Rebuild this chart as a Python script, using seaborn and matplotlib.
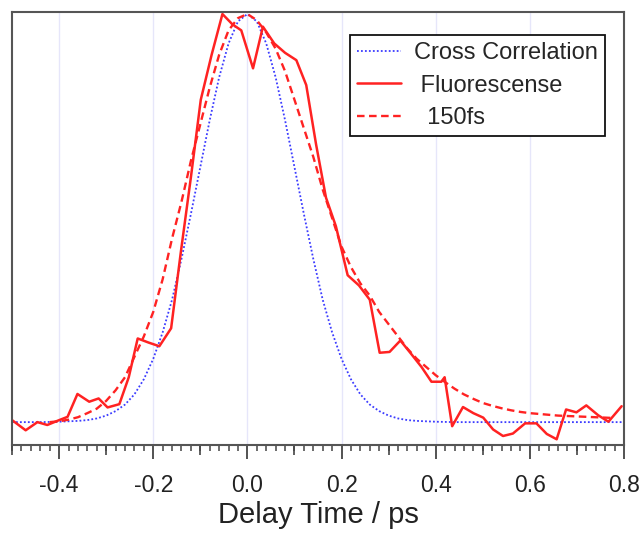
# Fluorescence up-conversion trace vs. cross correlation and a 150 fs fit
import numpy as np
import pandas as pd
import matplotlib
matplotlib.use("Agg")
import matplotlib.pyplot as plt
import seaborn as sns

# Cross correlation (instrument response)
cc_time = [-0.50, -0.44, -0.40, -0.36, -0.34, -0.32, -0.30, -0.28, -0.26, -0.24, -0.22,
           -0.20, -0.18, -0.16, -0.14, -0.12, -0.10, -0.08, -0.06, -0.04, -0.02, 0.00,
           0.02, 0.04, 0.06, 0.08, 0.10, 0.12, 0.14, 0.16, 0.18, 0.20, 0.22, 0.24,
           0.26, 0.28, 0.30, 0.32, 0.34, 0.36, 0.40, 0.44, 0.50, 0.60, 0.70, 0.80]
cc_signal = [0.0, 0.0, 0.001, 0.003, 0.005, 0.009, 0.016, 0.027, 0.043, 0.068, 0.105,
             0.155, 0.22, 0.30, 0.40, 0.51, 0.625, 0.74, 0.845, 0.928, 0.982, 1.0,
             0.982, 0.928, 0.845, 0.74, 0.625, 0.51, 0.40, 0.30, 0.22, 0.155, 0.105, 0.068,
             0.043, 0.027, 0.016, 0.009, 0.005, 0.003, 0.001, 0.0, 0.0, 0.0, 0.0, 0.0]

# Measured fluorescence
fl_time = [-0.500, -0.471, -0.446, -0.425, -0.404, -0.382, -0.361, -0.336, -0.316, -0.297,
           -0.272, -0.252, -0.233, -0.210, -0.187, -0.162, -0.141, -0.120, -0.099, -0.076,
           -0.053, -0.032, -0.013, 0.012, 0.033, 0.057, 0.080, 0.104, 0.125, 0.146,
           0.167, 0.188, 0.213, 0.237, 0.260, 0.281, 0.302, 0.325, 0.346, 0.370,
           0.391, 0.412, 0.419, 0.435, 0.458, 0.480, 0.501, 0.522, 0.543, 0.564,
           0.590, 0.614, 0.636, 0.657, 0.677, 0.699, 0.720, 0.745, 0.767, 0.795]
fl_signal = [0.005, -0.020, 0.000, -0.007, 0.003, 0.013, 0.069, 0.050, 0.058, 0.036,
             0.044, 0.110, 0.205, 0.195, 0.186, 0.230, 0.420, 0.600, 0.790, 0.900,
             1.000, 0.975, 0.960, 0.867, 0.969, 0.928, 0.905, 0.887, 0.826, 0.680,
             0.550, 0.480, 0.360, 0.335, 0.300, 0.170, 0.172, 0.200, 0.170, 0.135,
             0.099, 0.099, 0.110, -0.010, 0.037, 0.022, 0.011, -0.018, -0.034, -0.028,
             -0.003, -0.003, -0.029, -0.042, 0.031, 0.024, 0.041, 0.017, 0.001, 0.039]

# 150 fs decay convolved with the cross correlation
fit_time = [-0.42, -0.40, -0.38, -0.36, -0.34, -0.32, -0.30, -0.28, -0.26, -0.24, -0.22,
            -0.20, -0.18, -0.16, -0.14, -0.12, -0.10, -0.08, -0.06, -0.04, -0.02, 0.00,
            0.02, 0.04, 0.06, 0.08, 0.10, 0.12, 0.14, 0.16, 0.18, 0.20, 0.22, 0.24,
            0.26, 0.28, 0.30, 0.32, 0.34, 0.36, 0.38, 0.40, 0.42, 0.44, 0.46, 0.48,
            0.50, 0.52, 0.54, 0.56, 0.58, 0.60, 0.62, 0.64, 0.66, 0.68, 0.70, 0.72,
            0.74, 0.76, 0.78]
fit_signal = [0.0, 0.002, 0.006, 0.012, 0.022, 0.033, 0.052, 0.078, 0.11, 0.16, 0.21,
              0.27, 0.35, 0.45, 0.54, 0.64, 0.73, 0.82, 0.90, 0.96, 0.99, 1.0,
              0.985, 0.955, 0.915, 0.86, 0.79, 0.72, 0.65, 0.57, 0.50, 0.43, 0.38, 0.34,
              0.31, 0.27, 0.24, 0.21, 0.18, 0.155, 0.135, 0.115, 0.098, 0.082, 0.068, 0.057,
              0.047, 0.040, 0.034, 0.029, 0.025, 0.022, 0.020, 0.018, 0.016, 0.015, 0.014, 0.013,
              0.012, 0.011, 0.010]

major_ticks = [-0.4, -0.2, 0.0, 0.2, 0.4, 0.6, 0.8]
tick_labels = ["-0.4", "-0.2", "0.0", "0.2", "0.4", "0.6", "0.8"]
mid_ticks = [-0.5, -0.3, -0.1, 0.1, 0.3, 0.5, 0.7]

sns.set_style("white")
plt.rcParams['font.family'] = ['Liberation Sans', 'DejaVu Sans']

cc_df = pd.DataFrame({'time': cc_time, 'signal': cc_signal})
fl_df = pd.DataFrame({'time': fl_time, 'signal': fl_signal})
fit_df = pd.DataFrame({'time': fit_time, 'signal': fit_signal})

fig = plt.figure(figsize=(6.39, 5.38), dpi=100)
ax = fig.add_axes([0.0188, 0.1729, 0.9577, 0.8048])

# faint vertical grid at the labelled ticks
for t in major_ticks[:-1]:
    ax.axvline(t, color='#e6e6fa', lw=1.0, zorder=0)

sns.lineplot(data=cc_df, x='time', y='signal', ax=ax, color='#3c3cff', lw=1.3,
             linestyle=(0, (1, 1.2)), label='Cross Correlation')
sns.lineplot(data=fl_df, x='time', y='signal', ax=ax, color='#ff2222', lw=1.8,
             label=' Fluorescense')
sns.lineplot(data=fit_df, x='time', y='signal', ax=ax, color='#ff2222', lw=1.7,
             linestyle=(0, (3.2, 1.9)), label='  150fs')

ax.set_xlim(-0.5, 0.8)
ax.set_ylim(-0.056, 1.005)
ax.set_yticks([])
ax.set_ylabel('')
ax.set_xticks(major_ticks)
ax.set_xticklabels(tick_labels, fontsize=16.5, color='#222222')
ax.set_xticks(np.round(np.arange(-0.5, 0.801, 0.02), 2), minor=True)
ax.tick_params(axis='x', which='major', direction='out', length=10, width=1.3,
               color='#444444', pad=11, bottom=True)
ax.tick_params(axis='x', which='minor', direction='out', length=4, width=1.1,
               color='#444444', bottom=True)
ax.set_xlabel('Delay Time / ps', fontsize=21, color='#222222', labelpad=3)

# medium ticks at the odd tenths
sec = ax.secondary_xaxis('bottom')
sec.set_xticks(mid_ticks)
sec.set_xticklabels([])
sec.tick_params(direction='out', length=7, width=1.2, color='#444444')
sec.spines['bottom'].set_visible(False)

for side in ['left', 'right', 'top', 'bottom']:
    ax.spines[side].set_visible(True)
    ax.spines[side].set_color('#555555')
    ax.spines[side].set_linewidth(1.5)

leg = ax.legend(loc='upper right', bbox_to_anchor=(0.969, 0.947), fontsize=17,
                frameon=True, fancybox=False, shadow=False, handlelength=1.85,
                handletextpad=0.55, labelspacing=0.45, borderpad=0.3, borderaxespad=0)
leg.get_frame().set_edgecolor('#111111')
leg.get_frame().set_linewidth(1.3)
leg.get_frame().set_alpha(1)

fig.savefig('out.png', dpi=100)
